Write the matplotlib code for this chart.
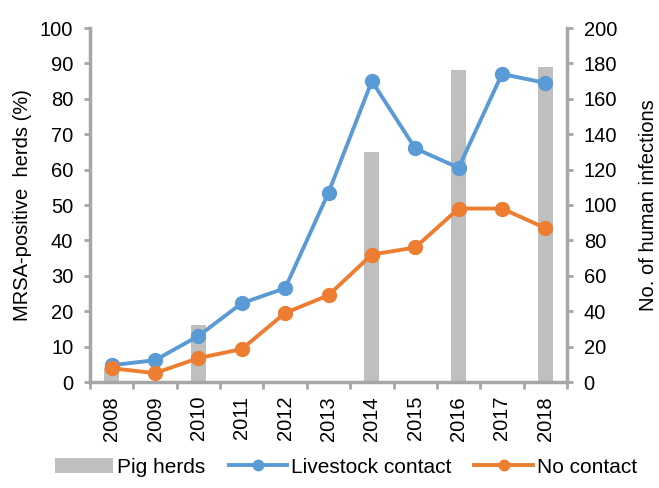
import matplotlib.pyplot as plt
import numpy as np

plt.rcParams['font.family'] = ['Liberation Sans', 'DejaVu Sans']

years = ['2008', '2009', '2010', '2011', '2012', '2013', '2014', '2015', '2016', '2017', '2018']
pig_herds = [3.9, 0, 16, 0, 0, 0, 65, 0, 88.2, 0, 89.1]
livestock = [9.5, 12.3, 26, 44.5, 53, 107, 170, 132, 121, 174, 169]
no_contact = [7.8, 5, 13.5, 18.6, 39, 49, 72, 76, 98, 98, 87]

grey = '#BFBFBF'
spine = '#A6A6A6'
blue = '#5B9BD5'
orange = '#ED7D31'
fs = 14.5

fig = plt.figure(figsize=(6.59, 4.88), dpi=100)
ax = fig.add_axes([90 / 659, 1 - 382 / 488, 477 / 659, 354 / 488])
ax2 = ax.twinx()

x = np.arange(len(years))
bars = ax.bar(x, pig_herds, width=0.35, color=grey, label='Pig herds', zorder=1)
l1, = ax2.plot(x, livestock, color=blue, lw=2.8, marker='o', ms=10, label='Livestock contact')
l2, = ax2.plot(x, no_contact, color=orange, lw=2.8, marker='o', ms=10, label='No contact')

ax.set_xlim(-0.5, len(years) - 0.5)
ax.set_ylim(0, 100)
ax2.set_ylim(0, 200)
ax.set_yticks(range(0, 101, 10))
ax2.set_yticks(range(0, 201, 20))
ax.set_xticks(x)
ax.set_xticklabels(years, rotation=90)
ax.set_xticks(np.arange(-0.5, len(years)), minor=True)

for a in (ax, ax2):
    for s in a.spines.values():
        s.set_visible(False)
ax.spines['left'].set_visible(True)
ax.spines['bottom'].set_visible(True)
ax2.spines['right'].set_visible(True)
for s in (ax.spines['left'], ax.spines['bottom'], ax2.spines['right']):
    s.set_color(spine)
    s.set_linewidth(2.5)

ax.tick_params(axis='x', which='major', length=0, pad=10, labelsize=fs)
ax.tick_params(axis='x', which='minor', length=5, width=2, color=spine)
ax.tick_params(axis='y', length=4, width=2, color=spine, labelsize=fs, pad=8)
ax2.tick_params(axis='y', length=4, width=2, color=spine, labelsize=fs, pad=8)

ax.set_ylabel('MRSA-positive  herds (%)', fontsize=fs, labelpad=6)
ax2.set_ylabel('No. of human infections', fontsize=fs, labelpad=16)

fig.legend(handles=[bars, l1, l2], loc='lower center', ncol=3, frameon=False,
           fontsize=15, bbox_to_anchor=(0.525, -0.015), handlelength=2.8,
           columnspacing=1.1, handletextpad=0.2, markerscale=0.75)

fig.savefig('out.png', dpi=100)
